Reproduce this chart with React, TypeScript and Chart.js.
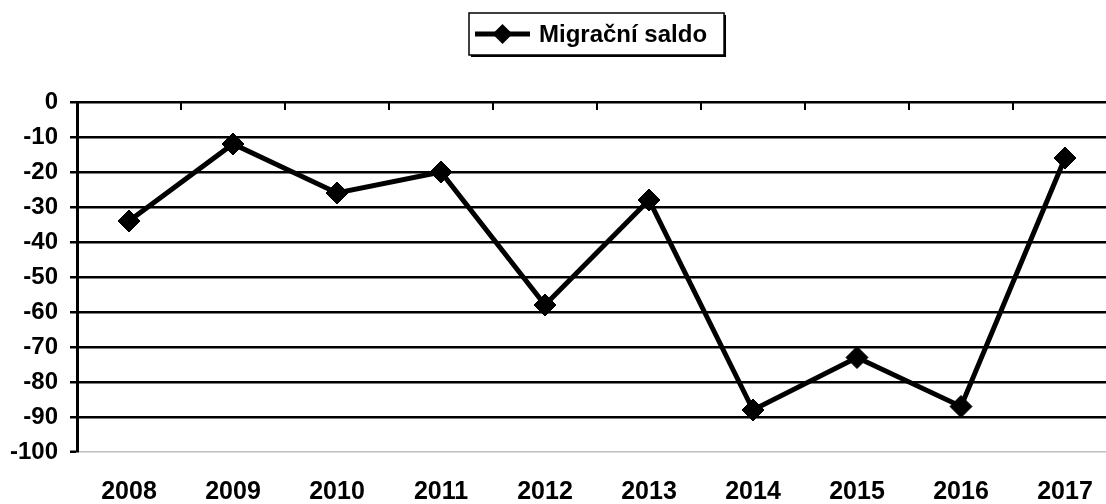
import React, { useEffect, useRef } from "react";
import { Chart, registerables } from "chart.js";

Chart.register(...registerables);

// ---- data ----
const years: string[] = ["2008", "2009", "2010", "2011", "2012", "2013", "2014", "2015", "2016", "2017"];
const migrationBalance: number[] = [-34, -12, -26, -20, -58, -28, -88, -73, -87, -16];
const seriesLabel = "Migrační saldo";
const yMin = -100;
const yMax = 0;
const yStep = 10;

const FONT = '"Liberation Sans", Arial, sans-serif';

const topTicksPlugin = {
  id: "topTicks",
  afterDraw(chart: any) {
    const { ctx, chartArea, scales } = chart;
    const x = scales.x;
    const n = x.ticks.length;
    if (n < 2) return;
    const half = (x.getPixelForValue(1) - x.getPixelForValue(0)) / 2;
    ctx.save();
    ctx.strokeStyle = "#000";
    ctx.lineWidth = 2;
    for (let i = 0; i < n; i++) {
      const px = Math.round(x.getPixelForValue(i) + half);
      ctx.beginPath();
      ctx.moveTo(px, chartArea.top);
      ctx.lineTo(px, chartArea.top + 8);
      ctx.stroke();
    }
    ctx.restore();
  },
};

const legendPlugin = {
  id: "customLegend",
  afterDraw(chart: any) {
    const { ctx, chartArea } = chart;
    const label = chart.data.datasets[0].label as string;
    ctx.save();
    ctx.font = `bold 24px ${FONT}`;
    const textW = ctx.measureText(label).width;
    const padL = 6, sampleW = 55, gap = 9, padR = 17;
    const boxW = padL + sampleW + gap + textW + padR;
    const boxH = 42;
    const cx = (chartArea.left + chartArea.right) / 2;
    const bx = Math.round(cx - boxW / 2);
    const by = 13;
    // shadow
    ctx.fillStyle = "#000";
    ctx.fillRect(bx + 2, by + 2, boxW, boxH);
    ctx.fillStyle = "#fff";
    ctx.fillRect(bx, by, boxW, boxH);
    ctx.strokeStyle = "#000";
    ctx.lineWidth = 1.5;
    ctx.strokeRect(bx, by, boxW, boxH);
    const midY = by + boxH / 2;
    // line sample
    ctx.lineWidth = 5;
    ctx.beginPath();
    ctx.moveTo(bx + padL, midY);
    ctx.lineTo(bx + padL + sampleW, midY);
    ctx.stroke();
    // diamond
    const mx = bx + padL + sampleW / 2;
    const r = 10;
    ctx.fillStyle = "#000";
    ctx.beginPath();
    ctx.moveTo(mx - r, midY);
    ctx.lineTo(mx, midY - r);
    ctx.lineTo(mx + r, midY);
    ctx.lineTo(mx, midY + r);
    ctx.closePath();
    ctx.fill();
    // text
    ctx.fillStyle = "#000";
    ctx.textBaseline = "middle";
    ctx.textAlign = "left";
    ctx.fillText(label, bx + padL + sampleW + gap, midY + 1);
    ctx.restore();
  },
};

export default function App() {
  const canvasRef = useRef<HTMLCanvasElement | null>(null);

  useEffect(() => {
    const canvas = canvasRef.current;
    if (!canvas) return;
    const chart = new Chart(canvas, {
      type: "line",
      data: {
        labels: years,
        datasets: [
          {
            label: seriesLabel,
            data: migrationBalance,
            borderColor: "#000",
            backgroundColor: "#000",
            borderWidth: 5,
            tension: 0,
            pointStyle: "rectRot",
            pointRadius: 11,
            pointHoverRadius: 11,
            pointBackgroundColor: "#000",
            pointBorderColor: "#000",
            pointBorderWidth: 1,
          },
        ],
      },
      options: {
        responsive: false,
        animation: false,
        devicePixelRatio: 1,
        layout: { padding: { top: 102, right: 13, left: 0, bottom: 0 } },
        plugins: {
          legend: { display: false },
          tooltip: { enabled: false },
          title: { display: false },
        },
        scales: {
          x: {
            offset: true,
            grid: { display: false, drawTicks: false },
            border: { display: false },
            ticks: {
              color: "#000",
              font: { family: FONT, size: 25, weight: "bold" },
              padding: 25,
              maxRotation: 0,
              autoSkip: false,
            },
            afterFit(scale: any) {
              scale.height = 52;
            },
          },
          y: {
            min: yMin,
            max: yMax,
            ticks: {
              stepSize: yStep,
              color: "#000",
              font: { family: FONT, size: 24, weight: "bold" },
              padding: 12,
            },
            grid: {
              color: (c: any) => (c.tick && c.tick.value === yMin ? "#c0c0c0" : "#000"),
              lineWidth: (c: any) => (c.tick && c.tick.value === yMin ? 1.5 : 2.5),
              tickLength: 7,
              tickColor: "#000",
              tickWidth: 2.5,
            },
            border: { display: true, color: "#000", width: 3 },
            afterFit(scale: any) {
              scale.width = 77;
            },
          },
        },
      },
      plugins: [topTicksPlugin, legendPlugin],
    });
    return () => chart.destroy();
  }, []);

  return (
    <div
      style={{
        position: "fixed",
        left: 0,
        top: 0,
        width: 1106,
        height: 504,
        overflow: "hidden",
        background: "#fff",
      }}
    >
      <canvas
        ref={canvasRef}
        width={1130}
        height={504}
        style={{ display: "block", width: 1130, height: 504 }}
      />
    </div>
  );
}
